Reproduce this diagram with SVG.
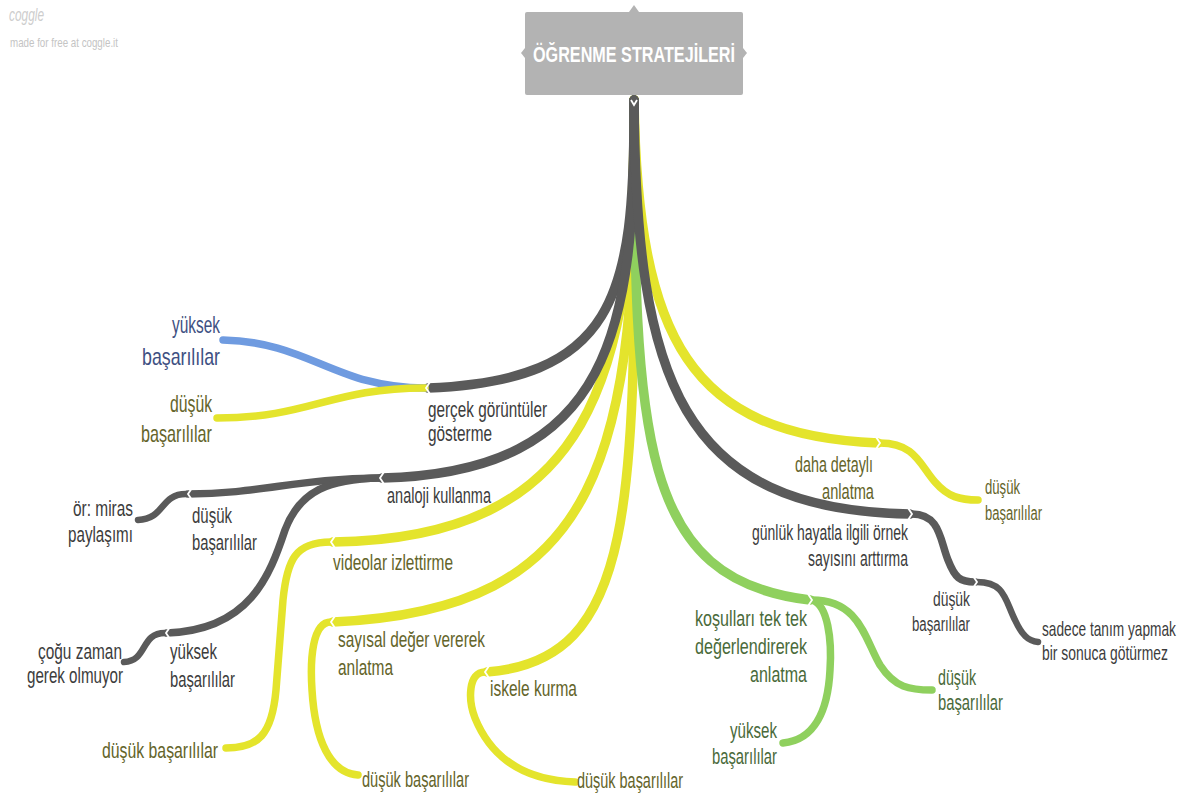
<svg xmlns="http://www.w3.org/2000/svg" width="1188" height="794" viewBox="0 0 1188 794">
  <style>
    text { font-family: "Liberation Sans", Arial, sans-serif; font-size: 21.5px; }
    .tg { fill: #3c3c3c; }
    .ty { fill: #64642a; }
    .tn { fill: #4a6a3a; }
    .tb { fill: #3e5082; }
    .big { font-size: 24px; }
    .small { font-size: 19.5px; }
    .br { fill: none; stroke-linecap: round; stroke-linejoin: round; }
    .gray { stroke: #5a5a5a; }
    .yel { stroke: #e4e42c; }
    .grn { stroke: #8fd05e; }
    .blu { stroke: #6f9be0; }
    .l1 { stroke-width: 9.5; }
    .l2 { stroke-width: 7.5; }
    .l3 { stroke-width: 6.5; }
    .notch { fill: none; stroke: #ffffff; stroke-width: 1.8; stroke-linejoin: miter; }
  </style>

  <rect width="1188" height="794" fill="#ffffff"/>

  <!-- watermark -->
  <g id="brand">
    <text x="9" y="21" style="font-size:19px;font-style:italic;fill:#cdcdcd" textLength="35" lengthAdjust="spacingAndGlyphs">coggle</text>
    <text x="10" y="47" style="font-size:13px;fill:#c4c4c4" textLength="108" lengthAdjust="spacingAndGlyphs">made for free at coggle.it</text>
  </g>

  <!-- branches -->
  <g id="connectors">
    <!-- first level: yellow and green under the grey ones -->
    <path class="br yel l1" d="M634,100 C636,380 590,538 333,542"/>
    <path class="br yel l1" d="M634,100 C640,460 600,610 333,622"/>
    <path class="br yel l1" d="M634,100 C636,500 640,660 487,672"/>
    <path class="br yel l1" d="M634,100 C638,340 690,435 878,443"/>
    <path class="br grn l1" d="M634,100 C634,440 640,580 810,600"/>
    <path class="br gray l1" d="M634,100 C635,300 615,380 428,388"/>
    <path class="br gray l1" d="M634,100 C636,330 612,472 382,478"/>
    <path class="br gray l1" d="M634,100 C636,380 680,510 910,514"/>

    <!-- second level -->
    <path class="br blu l2" d="M425,388 C335,388 310,342 223,340"/>
    <path class="br yel l2" d="M425,388 C330,388 310,418 217,418"/>
    <path class="br gray l2" d="M380,478 C300,478 260,494 188,494"/>
    <path class="br gray l2" d="M380,478 C330,479 300,490 285,530 C270,575 250,630 167,633"/>
    <path class="br yel l2" d="M331,542 C295,542 287,560 283,600 L276,690 C272,735 258,748 226,748"/>
    <path class="br yel l2" d="M331,622 C312,622 310,660 312,690 C315,740 330,773 358,775"/>
    <path class="br yel l2" d="M485,672 C468,672 468,700 475,718 C490,755 520,780 575,782"/>
    <path class="br yel l2" d="M880,443 C915,443 920,465 935,482 C948,497 960,500 978,500"/>
    <path class="br gray l2" d="M912,514 C940,514 940,540 948,560 C955,578 960,582 975,582"/>
    <path class="br grn l2" d="M812,600 C860,600 865,640 880,665 C895,688 910,690 932,690"/>
    <path class="br grn l2" d="M812,600 C828,605 832,640 830,670 C828,710 815,740 783,743"/>

    <!-- third level -->
    <path class="br gray l3" d="M186,494 C160,494 165,519 138,520"/>
    <path class="br gray l3" d="M165,633 C140,633 148,661 124,662"/>
    <path class="br gray l3" d="M977,582 C1005,582 1005,600 1015,620 C1022,635 1028,641 1038,642"/>

    <!-- joints between a branch and its children -->
    <polyline class="notch" points="631,100 634,105 637,100"/>
    <polyline class="notch" points="430,382 426,388 430,394"/>
    <polyline class="notch" points="384,472 380,478 384,484"/>
    <polyline class="notch" points="192,488 188,494 192,500"/>
    <polyline class="notch" points="170,627 166,633 170,639"/>
    <polyline class="notch" points="335,536 331,542 335,548"/>
    <polyline class="notch" points="335,616 331,622 335,628"/>
    <polyline class="notch" points="489,666 485,672 489,678"/>
    <polyline class="notch" points="876,437 880,443 876,449"/>
    <polyline class="notch" points="908,508 912,514 908,520"/>
    <polyline class="notch" points="973,576 977,582 973,588"/>
    <polyline class="notch" points="808,594 812,600 808,606"/>
  </g>

  <!-- central topic -->
  <g id="root">
    <polygon points="629,12 634,5 639,12" fill="#b3b3b3"/>
    <polygon points="525,48 521,53 525,58" fill="#b3b3b3"/>
    <polygon points="743,48 747,53 743,58" fill="#b3b3b3"/>
    <rect x="525" y="12" width="218" height="83" rx="2" fill="#b3b3b3"/>
    <text x="533" y="62" style="font-size:22px;font-weight:bold;fill:#ffffff" textLength="202" lengthAdjust="spacingAndGlyphs">ÖĞRENME STRATEJİLERİ</text>
  </g>

  <!-- gerçek görüntüler -->
  <g id="n-gercek">
    <text class="tg" x="428" y="417" textLength="119" lengthAdjust="spacingAndGlyphs">gerçek görüntüler</text>
    <text class="tg" x="428" y="441" textLength="64" lengthAdjust="spacingAndGlyphs">gösterme</text>
  </g>
  <g id="n-gercek-yuksek">
    <text class="tb big" x="172" y="333" textLength="48" lengthAdjust="spacingAndGlyphs">yüksek</text>
    <text class="tb big" x="142" y="365" textLength="78" lengthAdjust="spacingAndGlyphs">başarılılar</text>
  </g>
  <g id="n-gercek-dusuk">
    <text class="ty big" x="170" y="412" textLength="42" lengthAdjust="spacingAndGlyphs">düşük</text>
    <text class="ty big" x="141" y="442" textLength="71" lengthAdjust="spacingAndGlyphs">başarılılar</text>
  </g>

  <!-- analoji kullanma -->
  <g id="n-analoji">
    <text class="tg" x="387" y="503" textLength="104" lengthAdjust="spacingAndGlyphs">analoji kullanma</text>
  </g>
  <g id="n-analoji-dusuk">
    <text class="tg" x="192" y="523" textLength="40" lengthAdjust="spacingAndGlyphs">düşük</text>
    <text class="tg" x="192" y="550" textLength="65" lengthAdjust="spacingAndGlyphs">başarılılar</text>
  </g>
  <g id="n-miras">
    <text class="tg" x="73" y="516" textLength="60" lengthAdjust="spacingAndGlyphs">ör: miras</text>
    <text class="tg" x="68" y="542" textLength="65" lengthAdjust="spacingAndGlyphs">paylaşımı</text>
  </g>
  <g id="n-analoji-yuksek">
    <text class="tg" x="170" y="659" textLength="47" lengthAdjust="spacingAndGlyphs">yüksek</text>
    <text class="tg" x="170" y="687" textLength="65" lengthAdjust="spacingAndGlyphs">başarılılar</text>
  </g>
  <g id="n-cogu">
    <text class="tg" x="38" y="659" textLength="84" lengthAdjust="spacingAndGlyphs">çoğu zaman</text>
    <text class="tg" x="27" y="683" textLength="96" lengthAdjust="spacingAndGlyphs">gerek olmuyor</text>
  </g>

  <!-- videolar izlettirme -->
  <g id="n-videolar">
    <text class="ty" x="333" y="570" textLength="120" lengthAdjust="spacingAndGlyphs">videolar izlettirme</text>
  </g>
  <g id="n-videolar-dusuk">
    <text class="ty" x="102" y="758" textLength="116" lengthAdjust="spacingAndGlyphs">düşük başarılılar</text>
  </g>

  <!-- sayısal değer vererek anlatma -->
  <g id="n-sayisal">
    <text class="ty" x="338" y="647" textLength="147" lengthAdjust="spacingAndGlyphs">sayısal değer vererek</text>
    <text class="ty" x="338" y="675" textLength="55" lengthAdjust="spacingAndGlyphs">anlatma</text>
  </g>
  <g id="n-sayisal-dusuk">
    <text class="ty" x="362" y="787" textLength="107" lengthAdjust="spacingAndGlyphs">düşük başarılılar</text>
  </g>

  <!-- iskele kurma -->
  <g id="n-iskele">
    <text class="ty" x="490" y="696" textLength="87" lengthAdjust="spacingAndGlyphs">iskele kurma</text>
  </g>
  <g id="n-iskele-dusuk">
    <text class="ty" x="577" y="788" textLength="106" lengthAdjust="spacingAndGlyphs">düşük başarılılar</text>
  </g>

  <!-- koşulları tek tek değerlendirerek anlatma -->
  <g id="n-kosullar">
    <text class="tn" x="695" y="626" textLength="112" lengthAdjust="spacingAndGlyphs">koşulları tek tek</text>
    <text class="tn" x="695" y="654" textLength="112" lengthAdjust="spacingAndGlyphs">değerlendirerek</text>
    <text class="tn" x="750" y="682" textLength="57" lengthAdjust="spacingAndGlyphs">anlatma</text>
  </g>
  <g id="n-kosullar-dusuk">
    <text class="tn" x="938" y="685" textLength="38" lengthAdjust="spacingAndGlyphs">düşük</text>
    <text class="tn" x="938" y="710" textLength="65" lengthAdjust="spacingAndGlyphs">başarılılar</text>
  </g>
  <g id="n-kosullar-yuksek">
    <text class="tn" x="730" y="738" textLength="47" lengthAdjust="spacingAndGlyphs">yüksek</text>
    <text class="tn" x="712" y="764" textLength="65" lengthAdjust="spacingAndGlyphs">başarılılar</text>
  </g>

  <!-- günlük hayatla ilgili örnek sayısını arttırma -->
  <g id="n-gunluk">
    <text class="tg" x="752" y="540" textLength="156" lengthAdjust="spacingAndGlyphs">günlük hayatla ilgili örnek</text>
    <text class="tg" x="808" y="566" textLength="100" lengthAdjust="spacingAndGlyphs">sayısını arttırma</text>
  </g>
  <g id="n-gunluk-dusuk">
    <text class="tg small" x="933" y="606" textLength="37" lengthAdjust="spacingAndGlyphs">düşük</text>
    <text class="tg small" x="912" y="631" textLength="58" lengthAdjust="spacingAndGlyphs">başarılılar</text>
  </g>
  <!-- narrowed with a horizontal scale so the run stays inside the right edge -->
  <g id="n-sadece" transform="translate(1042,0) scale(0.72,1)">
    <text class="tg" x="0" y="636" style="font-size:20.5px" textLength="186" lengthAdjust="spacingAndGlyphs">sadece tanım yapmak</text>
    <text class="tg" x="0" y="660" style="font-size:20.5px" textLength="175" lengthAdjust="spacingAndGlyphs">bir sonuca götürmez</text>
  </g>

  <!-- daha detaylı anlatma -->
  <g id="n-daha">
    <text class="ty" x="795" y="472" textLength="78" lengthAdjust="spacingAndGlyphs">daha detaylı</text>
    <text class="ty" x="822" y="499" textLength="52" lengthAdjust="spacingAndGlyphs">anlatma</text>
  </g>
  <g id="n-daha-dusuk">
    <text class="ty small" x="985" y="494" textLength="35" lengthAdjust="spacingAndGlyphs">düşük</text>
    <text class="ty small" x="985" y="520" textLength="57" lengthAdjust="spacingAndGlyphs">başarılılar</text>
  </g>
</svg>
